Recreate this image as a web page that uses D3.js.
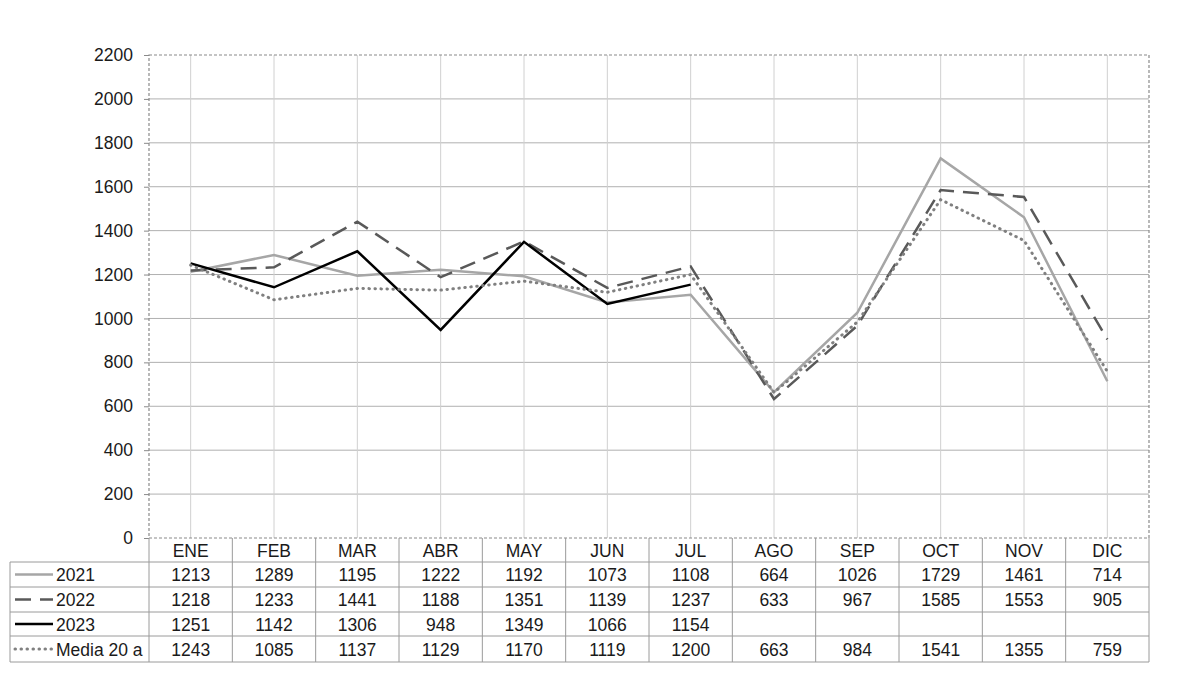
<!DOCTYPE html>
<html><head><meta charset="utf-8">
<script src="https://cdn.jsdelivr.net/npm/d3@7"></script>
<style>body{margin:0;background:#fff}svg{display:block}text{font-family:"Liberation Sans",Arial,sans-serif;fill:#1a1a1a}</style>
</head><body><svg id="c" width="1200" height="685"></svg>
<script>
const months = ["ENE","FEB","MAR","ABR","MAY","JUN","JUL","AGO","SEP","OCT","NOV","DIC"];
const s2021 = [1213,1289,1195,1222,1192,1073,1108,664,1026,1729,1461,714];
const s2022 = [1218,1233,1441,1188,1351,1139,1237,633,967,1585,1553,905];
const s2023 = [1251,1142,1306,948,1349,1066,1154,null,null,null,null,null];
const sMedia = [1243,1085,1137,1129,1170,1119,1200,663,984,1541,1355,759];
const seriesNames = ["2021","2022","2023","Media 20 a"];
const yTicks = [0,200,400,600,800,1000,1200,1400,1600,1800,2000,2200];

const series = [
  {name:seriesNames[0], values:s2021, color:"#a6a6a6", dash:null, w:2.5, cap:"butt"},
  {name:seriesNames[1], values:s2022, color:"#595959", dash:"16,9", w:2.5, cap:"butt"},
  {name:seriesNames[2], values:s2023, color:"#000000", dash:null, w:2.5, cap:"butt"},
  {name:seriesNames[3], values:sMedia, color:"#808080", dash:"0.5,5.5", w:3, cap:"round"}
];
const FS = 17.5;

const svg = d3.select("#c");
const L=149, R=1149, T=55, B=538;
const x = d3.scaleBand().domain(months).range([L,R]);
const y = d3.scaleLinear().domain([0,2200]).range([B,T]);
const cx = m => x(m)+x.bandwidth()/2;

svg.append("g").selectAll("line").data(yTicks.filter(t=>t>0&&t<2200)).join("line")
  .attr("x1",L).attr("x2",R).attr("y1",d=>y(d)).attr("y2",d=>y(d))
  .attr("stroke","#b0b0b0").attr("stroke-width",1);
svg.append("g").selectAll("line").data(months).join("line")
  .attr("x1",d=>cx(d)).attr("x2",d=>cx(d)).attr("y1",T).attr("y2",B)
  .attr("stroke","#d0d0d0").attr("stroke-width",1);

svg.append("rect").attr("x",L).attr("y",T).attr("width",R-L).attr("height",B-T)
  .attr("fill","none").attr("stroke","#8a8a8a").attr("stroke-width",1.2).attr("stroke-dasharray","3,2");

const yAxis = d3.axisLeft(y).tickValues(yTicks).tickFormat(d3.format("d")).tickSize(5).tickPadding(11);
const ga = svg.append("g").attr("transform",`translate(${L},0)`).call(yAxis);
ga.select(".domain").remove();
ga.selectAll(".tick line").attr("stroke","#8a8a8a");
ga.selectAll(".tick text").attr("font-size",FS).attr("fill","#1a1a1a").style("font-family","Liberation Sans, Arial, sans-serif");

const line = d3.line().defined(d=>d.v!=null).x(d=>cx(d.m)).y(d=>y(d.v));
series.forEach(s=>{
  svg.append("path").datum(months.map((m,i)=>({m,v:s.values[i]})))
    .attr("d",line).attr("fill","none").attr("stroke",s.color).attr("stroke-width",s.w)
    .attr("stroke-dasharray",s.dash).attr("stroke-linecap",s.cap).attr("stroke-linejoin","miter");
});

const tL=10, rowH=[538,562,587,612,636,662];
const tg = svg.append("g");
const tc = "#9a9a9a";
months.forEach((m,i)=>{
  tg.append("line").attr("x1",x(m)).attr("x2",x(m)).attr("y1",rowH[0]).attr("y2",rowH[5]).attr("stroke",tc);
});
tg.append("line").attr("x1",R).attr("x2",R).attr("y1",rowH[0]).attr("y2",rowH[5]).attr("stroke",tc);
tg.append("line").attr("x1",tL).attr("x2",tL).attr("y1",rowH[1]).attr("y2",rowH[5]).attr("stroke",tc);
for(let k=1;k<=5;k++){
  tg.append("line").attr("x1",tL).attr("x2",R).attr("y1",rowH[k]).attr("y2",rowH[k]).attr("stroke",tc);
}
months.forEach(m=>{
  tg.append("text").attr("x",cx(m)).attr("y",(rowH[0]+rowH[1])/2+6.5).attr("text-anchor","middle").attr("font-size",FS).text(m);
});
series.forEach((s,k)=>{
  const yc=(rowH[k+1]+rowH[k+2])/2;
  tg.append("line").attr("x1",15).attr("x2",53).attr("y1",yc).attr("y2",yc)
    .attr("stroke",s.color).attr("stroke-width",s.w).attr("stroke-dasharray",s.dash).attr("stroke-linecap",s.cap);
  tg.append("text").attr("x",56).attr("y",yc+6.5).attr("font-size",FS).text(s.name);
  months.forEach((m,i)=>{
    if(s.values[i]!=null)
      tg.append("text").attr("x",cx(m)).attr("y",yc+6.5).attr("text-anchor","middle").attr("font-size",FS).text(s.values[i]);
  });
});
</script></body></html>
